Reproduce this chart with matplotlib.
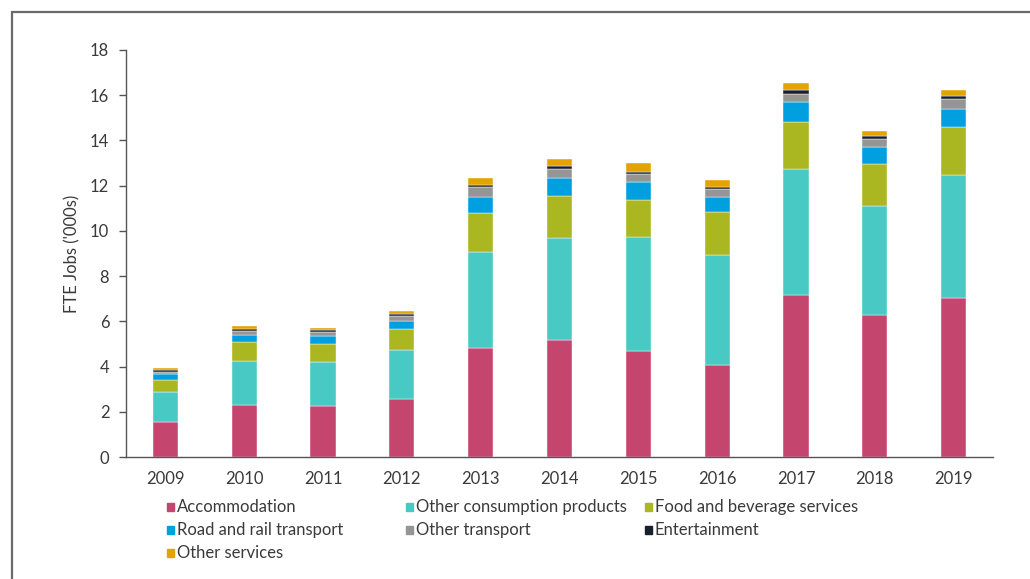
import matplotlib
matplotlib.use("Agg")
import matplotlib.pyplot as plt
from matplotlib.patches import Rectangle
import numpy as np

plt.rcParams['font.family'] = ['Lato', 'DejaVu Sans']

# values (FTE jobs, '000s)
years = ['2009', '2010', '2011', '2012', '2013', '2014', '2015', '2016', '2017', '2018', '2019']
accommodation = [1.55, 2.28, 2.24, 2.55, 4.83, 5.17, 4.69, 4.07, 7.16, 6.28, 7.05]
other_consumption = [1.34, 1.98, 1.98, 2.20, 4.25, 4.50, 5.05, 4.85, 5.56, 4.84, 5.42]
food_beverage = [0.52, 0.81, 0.78, 0.90, 1.73, 1.87, 1.63, 1.92, 2.11, 1.84, 2.11]
road_rail = [0.26, 0.33, 0.35, 0.38, 0.70, 0.79, 0.81, 0.67, 0.86, 0.74, 0.81]
other_transport = [0.10, 0.17, 0.18, 0.21, 0.42, 0.39, 0.32, 0.34, 0.36, 0.36, 0.43]
entertainment = [0.08, 0.09, 0.09, 0.08, 0.10, 0.13, 0.10, 0.11, 0.18, 0.14, 0.15]
other_services = [0.09, 0.13, 0.10, 0.14, 0.30, 0.33, 0.39, 0.29, 0.30, 0.23, 0.26]

series = [
    ("Accommodation", accommodation, "#C4456E"),
    ("Other consumption products", other_consumption, "#48C9C3"),
    ("Food and beverage services", food_beverage, "#AAB720"),
    ("Road and rail transport", road_rail, "#00A0E0"),
    ("Other transport", other_transport, "#959595"),
    ("Entertainment", entertainment, "#17202B"),
    ("Other services", other_services, "#E3A300"),
]

text_col = "#3a3a3a"
fs = 12

fig = plt.figure(figsize=(10.30, 5.79), dpi=100)
ax = fig.add_axes([126 / 1030, 1 - 457 / 579, (993 - 126) / 1030, (457 - 50) / 579])

x = np.arange(len(years))
bottom = np.zeros(len(years))
for name, vals, col in series:
    ax.bar(x, vals, width=0.32, bottom=bottom, color=col, label=name,
           edgecolor="white", linewidth=0.3)
    bottom += np.array(vals)

ax.set_xlim(-0.5, len(years) - 0.5)
ax.set_ylim(0, 18)
ax.set_yticks(range(0, 19, 2))
ax.set_xticks(x)
ax.set_xticklabels(years)
ax.tick_params(axis='x', length=0, pad=10, labelsize=fs, labelcolor=text_col)
ax.tick_params(axis='y', length=5, width=1, color="#555555", pad=7,
               labelsize=fs, labelcolor=text_col)
for s in ['top', 'right']:
    ax.spines[s].set_visible(False)
for s in ['left', 'bottom']:
    ax.spines[s].set_color("#555555")
    ax.spines[s].set_linewidth(1)
ax.set_ylabel("FTE Jobs ('000s)", fontsize=fs, color=text_col, labelpad=7)

# legend laid out in fixed-width columns like the original
for i, (name, vals, col) in enumerate(series):
    r, c = divmod(i, 3)
    lx = (167 + c * 239) / 1030
    ly = 1 - (507 + r * 23) / 579
    fig.add_artist(Rectangle((lx, ly - 4 / 579), 7 / 1030, 8 / 579,
                             transform=fig.transFigure, color=col))
    fig.text(lx + 10 / 1030, ly, name, fontsize=fs, color=text_col, va='center')

# frame around the figure (cut off right and bottom)
fig.add_artist(Rectangle((12 / 1030, -0.05), 1.1, 1 - 12 / 579 + 0.05,
                         transform=fig.transFigure, fill=False,
                         edgecolor="#6a6a6a", linewidth=1.6, clip_on=False))

fig.savefig("out.png", dpi=100)
